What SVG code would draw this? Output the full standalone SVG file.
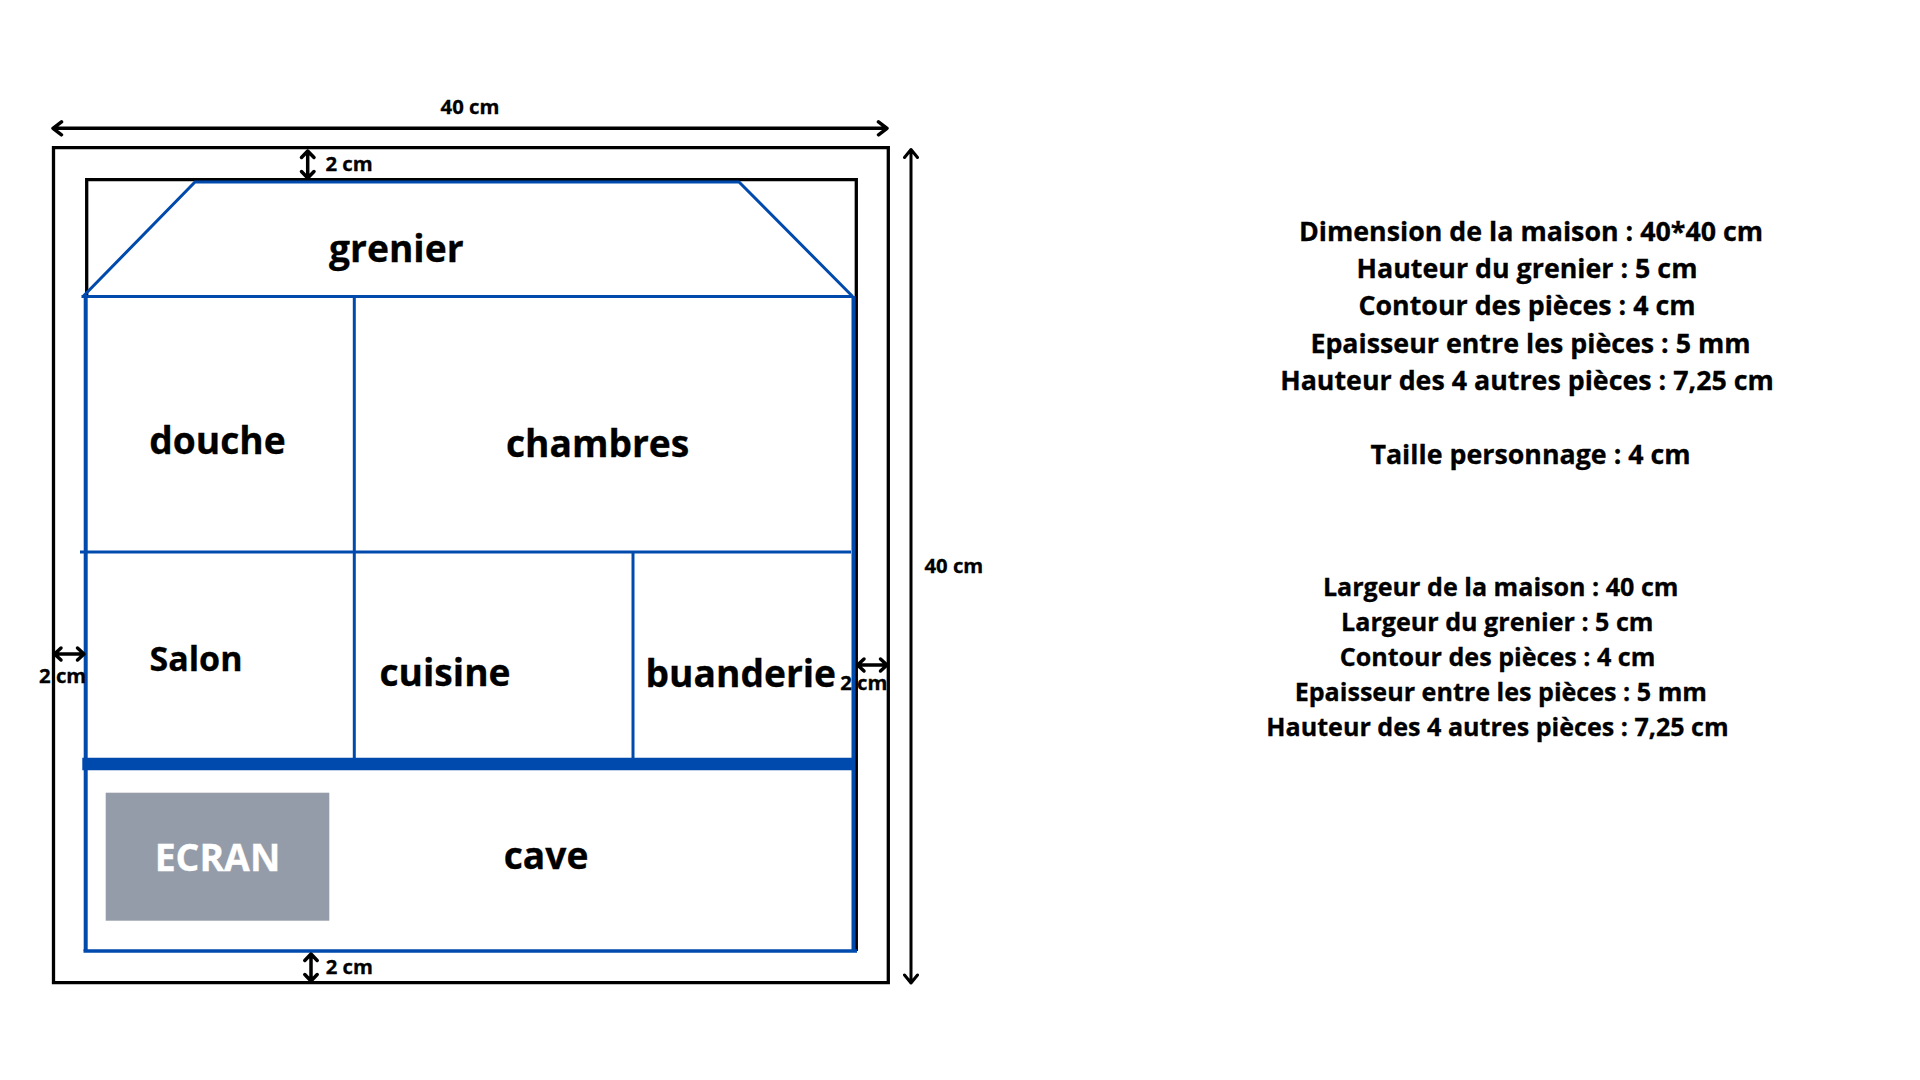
<svg xmlns="http://www.w3.org/2000/svg" width="1920" height="1080" viewBox="0 0 1920 1080">
<style>
text{font-family:"Open Sans","Noto Sans",sans-serif;font-weight:700;fill:#000;text-anchor:middle;stroke:#000;stroke-width:.3px}
.dim{font-size:20.300px}
.room{font-size:37.200px}
.n1{font-size:26.800px}
.n2{font-size:25.100px}
.blue{stroke:#004aad;stroke-width:3;fill:none}
.blk{stroke:#000;stroke-width:3.300;fill:none}
.arr{stroke:#000;stroke-width:3.500;fill:none;stroke-linecap:round;stroke-linejoin:round}
</style>
<rect width="1920" height="1080" fill="#fff"/>
<g id="outer-wall"><path class="blk" d="M53.500 147.700H888.300V982.700H53.500Z"/></g>
<g id="inner-wall"><path class="blk" d="M86.700 296V179.700H856.300V951"/></g>
<g id="grenier"><path class="blue" d="M82.500 297L195 182H739L852.700 296.500M81.500 296.500H853"/><text class="room" x="396.300" y="262">grenier</text></g>
<g id="douche"><path class="blue" style="stroke-width:4" d="M85.700 296V951"/><path class="blue" d="M354.300 296V758"/><text class="room" x="217.500" y="454">douche</text></g>
<g id="chambres"><path class="blue" d="M80 552H851"/><path class="blue" style="stroke-width:4" d="M853.500 296V951"/><text class="room" x="597.600" y="456.500">chambres</text></g>
<g id="salon"><text x="196" y="670.700" font-size="34">Salon</text></g>
<g id="cuisine"><path class="blue" d="M633 552V758"/><text class="room" x="445" y="686">cuisine</text></g>
<g id="buanderie"><text class="room" x="740.800" y="687.300">buanderie</text></g>
<g id="cave"><path d="M82.300 764H852" stroke="#004aad" stroke-width="12.300" fill="none"/><path class="blue" style="stroke-width:3.500" d="M83.500 951H857"/><text class="room" x="546" y="869.300">cave</text></g>
<g id="ecran"><rect x="105.700" y="792.700" width="223.600" height="128" fill="#959ca9"/><text x="217.500" y="870.700" font-size="37.400" style="fill:#fff;stroke:#fff">ECRAN</text></g>
<g id="connectors">
<path class="arr" d="M53 128.300H887M61.500 121.800L53 128.300L61.500 134.800M878.500 121.800L887 128.300L878.500 134.800"/>
<path class="arr" style="stroke-width:3" d="M911 150V983M904.500 157.500L911 149.500L917.500 157.500M904.500 975L911 983L917.500 975"/>
<path class="arr" d="M307.700 151V178M301.500 157.500L307.700 151L314 157.500M301.500 171.500L307.700 178L314 171.500"/>
<path class="arr" d="M311 954V981M304.800 960.500L311 954L317.200 960.500M304.800 974.500L311 981L317.200 974.500"/>
<path class="arr" d="M55 654H83.500M61 648L54.500 654L61 660M77.500 648L84 654L77.500 660"/>
<path class="arr" d="M858 665H886.500M864 659L857.500 665L864 671M880.500 659L887 665L880.500 671"/>
</g>
<g id="labels">
<text class="dim" x="470" y="114">40 cm</text>
<text class="dim" x="349" y="171">2 cm</text>
<text class="dim" x="349.300" y="973.800">2 cm</text>
<text class="dim" x="953.900" y="572.700">40 cm</text>
<text class="dim" x="62.700" y="683.300">2 cm</text>
<text class="dim" x="863.800" y="690">2 cm</text>
</g>
<g id="notes-1">
<text class="n1" x="1531" y="240.500">Dimension de la maison : 40*40 cm</text>
<text class="n1" x="1527" y="277.500">Hauteur du grenier : 5 cm</text>
<text class="n1" x="1527" y="314.500">Contour des pièces : 4 cm</text>
<text class="n1" x="1530.500" y="352.500">Epaisseur entre les pièces : 5 mm</text>
<text class="n1" x="1527" y="389.500">Hauteur des 4 autres pièces : 7,25 cm</text>
<text class="n1" x="1530.500" y="463.500">Taille personnage : 4 cm</text>
</g>
<g id="notes-2">
<text class="n2" x="1500.700" y="595.500">Largeur de la maison : 40 cm</text>
<text class="n2" x="1497.300" y="630.500">Largeur du grenier : 5 cm</text>
<text class="n2" x="1497.500" y="665.500">Contour des pièces : 4 cm</text>
<text class="n2" x="1500.800" y="700.500">Epaisseur entre les pièces : 5 mm</text>
<text class="n2" x="1497.500" y="735.500">Hauteur des 4 autres pièces : 7,25 cm</text>
</g>
</svg>
